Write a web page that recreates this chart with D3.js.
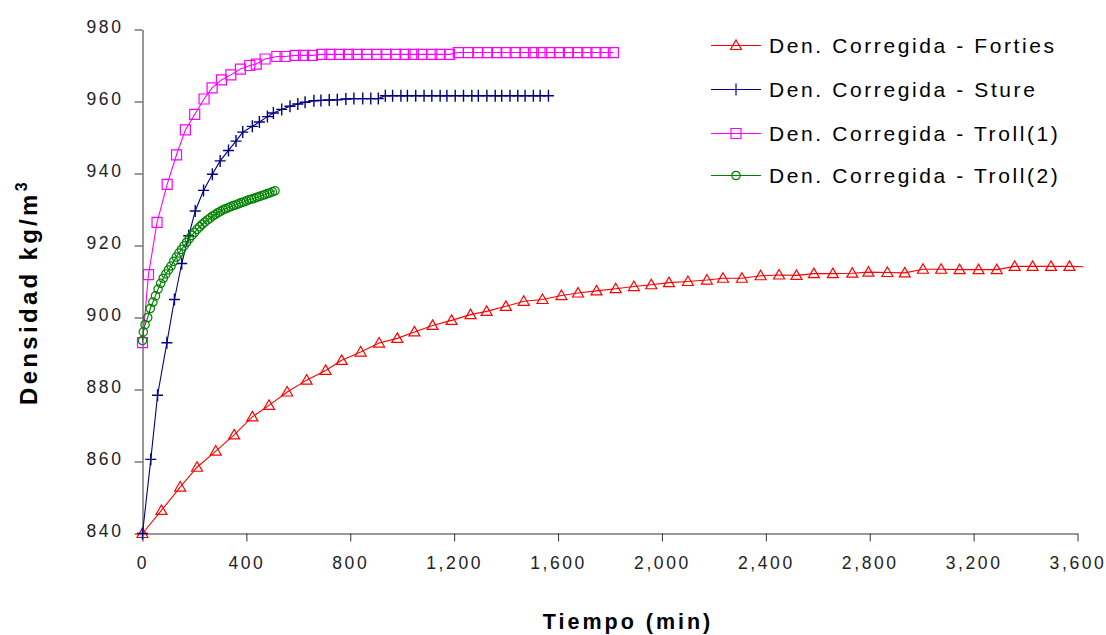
<!DOCTYPE html>
<html>
<head>
<meta charset="utf-8">
<script src="https://cdn.jsdelivr.net/npm/d3@7"></script>
<style>
  html, body { margin: 0; padding: 0; background: #fff; }
  svg { display: block; font-family: "Liberation Sans", Arial, sans-serif; }
</style>
</head>
<body>
<svg id="chart" width="1106" height="635"></svg>
<script>
// ---------------- DATA ----------------
const seriesNames = ["Den. Corregida - Forties", "Den. Corregida - Sture", "Den. Corregida - Troll(1)", "Den. Corregida - Troll(2)"];
const xTickValues = [0, 400, 800, 1200, 1600, 2000, 2400, 2800, 3200, 3600];
const yTickValues = [840, 860, 880, 900, 920, 940, 960, 980];
const xTitle = "Tiempo (min)";
const yTitle = "Densidad kg/m";

const fortiesTime = [0,73,145,210,282,353,423,487,557,632,705,767,840,911,981,1047,1117,1190,1263,1325,1399,1468,1540,1613,1677,1748,1822,1892,1959,2027,2100,2173,2235,2308,2380,2451,2518,2585,2658,2733,2795,2868,2935,3005,3075,3146,3219,3289,3358,3427,3498,3569,3622];
const fortiesDensity = [840,846.4,852.9,858.4,862.9,867.4,872.4,875.6,879.3,882.6,885.3,888.1,890.4,892.9,894.2,896,897.8,899.2,900.8,901.7,903.1,904.5,905,906.1,906.8,907.4,908,908.6,909.1,909.7,910,910.4,910.9,910.9,911.6,911.8,911.7,912.2,912.2,912.3,912.6,912.5,912.4,913.4,913.4,913.3,913.3,913.3,914.2,914.2,914.2,914.2,914.1];

const stureTime = [0,32,58,94,123,151,178,203,235,269,299,331,360,386,423,450,481,504,536,568,598,626,660,687,719,750,783,814,848,879,908,935,963,995,1020,1052,1084,1114,1146,1172,1204,1236,1268,1293,1326,1358,1383,1415,1445,1473,1505,1531,1563];
const stureDensity = [840,860.6,878.4,893,905,915,922.7,929.6,935.3,939.8,943.5,946.4,949,951.5,953.1,954.3,955.8,956.8,957.8,958.7,959.3,959.8,960.2,960.3,960.4,960.5,960.7,960.8,960.8,960.8,960.8,961.6,961.6,961.6,961.6,961.6,961.6,961.6,961.6,961.6,961.6,961.6,961.6,961.6,961.6,961.6,961.6,961.6,961.6,961.6,961.6,961.6,961.6];

const troll1Time = [0,23,56,95,131,165,201,237,268,304,340,377,413,438,472,517,549,588,620,654,690,722,758,793,826,864,902,938,975,1011,1043,1075,1114,1146,1182,1216,1255,1291,1328,1364,1400,1435,1473,1505,1537,1569,1605,1640,1676,1711,1746,1781,1813];
const troll1Density = [893,911.9,926.4,937,945.2,952.1,956.4,960.7,963.8,966,967.4,969,970,970.4,971.8,972.5,972.5,972.8,972.8,972.8,973.1,973.1,973.1,973.1,973.1,973.1,973.1,973.1,973.1,973.1,973.1,973.1,973.1,973.1,973.1,973.6,973.6,973.6,973.6,973.6,973.6,973.6,973.6,973.6,973.6,973.6,973.6,973.6,973.6,973.6,973.6,973.6,973.6];

const troll2Time = [0,3,10,20,30,40,50,60,70,80,90,100,110,120,130,140,150,160,170,180,190,200,210,220,230,240,250,260,270,280,290,300,310,320,330,340,350,360,370,380,390,400,410,420,430,440,450,460,470,480,490,500,510];
const troll2Density = [893.6,896,898,900,902.5,904.3,906,907.9,909.5,910.9,912.1,913.2,914.3,915.6,916.8,917.9,918.9,919.9,920.9,921.9,922.8,923.6,924.5,925.2,925.9,926.5,927.1,927.6,928.2,928.6,929.1,929.5,929.9,930.2,930.5,930.8,931.1,931.3,931.6,931.9,932.1,932.4,932.7,932.9,933.1,933.4,933.6,933.9,934.1,934.4,934.6,934.9,935.2];

// ---------------- LAYOUT ----------------
const svg = d3.select("#chart");
const x = d3.scaleLinear().domain([0, 3600]).range([142.5, 1077.5]);
const y = d3.scaleLinear().domain([840, 980]).range([533.5, 29.5]);

const series = [
  { name: seriesNames[0], t: fortiesTime, d: fortiesDensity, color: "#FF0000", marker: "triangle", skipLast: true },
  { name: seriesNames[1], t: stureTime, d: stureDensity, color: "#000080", marker: "plus" },
  { name: seriesNames[2], t: troll1Time, d: troll1Density, color: "#FF00FF", marker: "square" },
  { name: seriesNames[3], t: troll2Time, d: troll2Density, color: "#008000", marker: "circle" }
];

const markerPath = {
  triangle: "M0,-5.5L5.5,4L-5.5,4Z",
  plus: "M-5.5,0H5.5M0,-6V6",
  square: "M-5,-5H5V5H-5Z",
  circle: "M4.2,0A4.2,4.2 0 1,1 -4.2,0A4.2,4.2 0 1,1 4.2,0Z"
};

// ---------------- AXES ----------------
const axisColor = "#333";
const yAxis = svg.append("g").attr("transform", "translate(142.5,0)")
  .call(d3.axisLeft(y).tickValues(yTickValues).tickSize(8).tickSizeOuter(0).tickFormat(d3.format("d")));
const xAxis = svg.append("g").attr("transform", "translate(0,533.5)")
  .call(d3.axisBottom(x).tickValues(xTickValues).tickSize(8).tickSizeOuter(0).tickFormat(d3.format(",")));

[yAxis, xAxis].forEach(g => {
  g.select(".domain").attr("stroke", axisColor).attr("stroke-width", 1);
  g.selectAll(".tick line").attr("stroke", axisColor);
  g.selectAll(".tick text")
    .attr("fill", "#222")
    .style("font-size", "17.5px")
    .style("letter-spacing", "2.6px")
    .style("font-family", '"Liberation Sans", Arial, sans-serif');
});
yAxis.selectAll(".tick text").attr("x", -19).attr("dy", "0.32em").attr("y", -3);
xAxis.selectAll(".tick text").attr("y", 23).attr("dy", "0.71em");

// axis titles
svg.append("text")
  .attr("transform", "translate(37,292) rotate(-90)")
  .attr("text-anchor", "middle")
  .style("font-size", "24px").style("font-weight", "bold").style("letter-spacing", "3.3px")
  .attr("fill", "#000")
  .call(t => {
    t.append("tspan").text(yTitle);
    t.append("tspan").attr("dy", -10).style("font-size", "16px").text("3");
  });

svg.append("text")
  .attr("x", 628).attr("y", 629)
  .attr("text-anchor", "middle")
  .style("font-size", "21.5px").style("font-weight", "bold").style("letter-spacing", "3px")
  .attr("fill", "#000")
  .text(xTitle);

// ---------------- SERIES ----------------
const line = d3.line().x(p => x(p[0])).y(p => y(p[1]));
const plot = svg.append("g");

series.forEach(s => {
  const pts = s.t.map((tv, i) => [tv, s.d[i]]);
  plot.append("path").datum(pts)
    .attr("fill", "none").attr("stroke", s.color).attr("stroke-width", 1.1)
    .attr("d", line);
  const mpts = s.skipLast ? pts.slice(0, -1) : pts;
  plot.selectAll(null).data(mpts).enter().append("path")
    .attr("transform", p => `translate(${x(p[0])},${y(p[1])})`)
    .attr("d", markerPath[s.marker])
    .attr("fill", "none").attr("stroke", s.color).attr("stroke-width", s.marker === "plus" ? 1.4 : 1.2);
});

// ---------------- LEGEND ----------------
const legendY = [45, 89, 133, 175];
const legend = svg.append("g");
series.forEach((s, i) => {
  const g = legend.append("g").attr("transform", `translate(0,${legendY[i]})`);
  g.append("line").attr("x1", 711).attr("x2", 761).attr("y1", 0.5).attr("y2", 0.5)
    .attr("stroke", s.color).attr("stroke-width", 1.1);
  g.append("path").attr("transform", "translate(736,0.5)").attr("d", markerPath[s.marker])
    .attr("fill", "none").attr("stroke", s.color).attr("stroke-width", 1.2);
  g.append("text").attr("x", 769).attr("y", 0).attr("dy", "0.36em")
    .style("font-size", "21px").style("letter-spacing", "2.6px").attr("fill", "#000")
    .text(s.name);
});
</script>
</body>
</html>
